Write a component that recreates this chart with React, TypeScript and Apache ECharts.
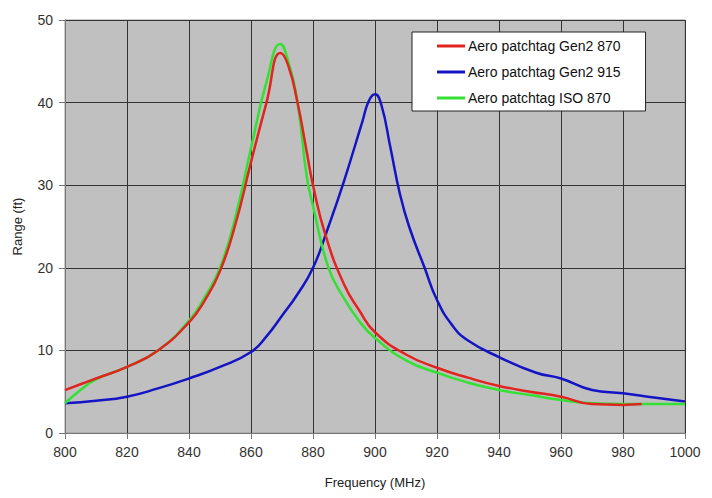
import React, { useEffect, useRef } from "react";
import * as echarts from "echarts";

const seriesNames = ["Aero patchtag Gen2 870", "Aero patchtag Gen2 915", "Aero patchtag ISO 870"];

const redFreq = [800, 805, 810, 820, 830, 840, 845, 850, 855, 860, 865, 869.5, 872, 875, 878, 880, 884, 890, 895, 900, 910, 920, 930, 940, 950, 960, 970, 980, 986];
const redVals = [5.2, 5.9, 6.6, 8.0, 10.0, 13.4, 16.0, 19.6, 25.3, 32.8, 40, 46, 44.5, 40, 34, 30, 24, 18, 14.8, 12.2, 9.5, 7.9, 6.7, 5.7, 5.0, 4.4, 3.5, 3.4, 3.5];

const blueFreq = [800, 810, 820, 830, 840, 850, 860, 865, 870, 875, 880, 885, 890, 896, 898, 900, 902, 905, 908, 911, 916, 920, 925, 930, 940, 952, 960, 970, 980, 990, 1000];
const blueVals = [3.6, 3.9, 4.4, 5.4, 6.6, 8.0, 9.8, 11.7, 14.2, 16.8, 20, 25, 30.5, 37.8, 40.2, 41, 39.8, 34.5, 29, 25, 20, 16.1, 13, 11.2, 9.2, 7.3, 6.6, 5.2, 4.8, 4.3, 3.8];

const greenFreq = [800, 805, 810, 820, 830, 840, 845, 850, 855, 860, 865, 869.5, 872, 875, 878, 880, 885, 890, 895, 900, 910, 920, 930, 940, 950, 960, 970, 980, 1000];
const greenVals = [3.6, 5.2, 6.5, 8.0, 10.0, 13.6, 16.4, 20, 26.2, 34.5, 42.5, 47.1, 45, 40, 31, 27.5, 20, 16.3, 13.5, 11.5, 8.8, 7.3, 6.1, 5.2, 4.6, 4.0, 3.6, 3.5, 3.5];

const colors = ["#e02420", "#1414c4", "#33e033"];

const zip = (xs: number[], ys: number[]) => xs.map((x, i) => [x, ys[i]]);

export default function App() {
  const ref = useRef<HTMLDivElement>(null);
  useEffect(() => {
    if (!ref.current) return;
    const chart = echarts.init(ref.current, undefined, { renderer: "svg" });
    const font = "'Liberation Sans', Arial, sans-serif";
    const data = [zip(redFreq, redVals), zip(blueFreq, blueVals), zip(greenFreq, greenVals)];
    chart.setOption({
      animation: false,
      backgroundColor: "#ffffff",
      textStyle: { fontFamily: font },
      grid: {
        left: 65,
        right: 27,
        top: 20,
        bottom: 65,
        show: true,
        backgroundColor: "#c0c0c0",
        borderColor: "#9a9a9a",
        borderWidth: 1,
      },
      legend: {
        data: seriesNames,
        orient: "vertical",
        left: 412,
        top: 32,
        padding: [7, 25, 6, 25],
        itemGap: 12,
        itemWidth: 28,
        itemHeight: 3,
        icon: "rect",
        backgroundColor: "#ffffff",
        borderColor: "#222",
        borderWidth: 1,
        borderRadius: 0,
        textStyle: { fontFamily: font, fontSize: 14, color: "#111", lineHeight: 14, padding: [0, 0, 0, -2] },
      },
      xAxis: {
        type: "value",
        min: 800,
        max: 1000,
        interval: 20,
        name: "Frequency (MHz)",
        nameLocation: "middle",
        nameGap: 43,
        nameTextStyle: { fontFamily: font, fontSize: 13, color: "#222" },
        axisLine: { show: true, lineStyle: { color: "#777", width: 1 } },
        axisTick: { show: true, length: 6, lineStyle: { color: "#777" } },
        axisLabel: { fontFamily: font, fontSize: 14, color: "#333", margin: 12, formatter: (v: number) => String(v) },
        splitLine: { show: true, lineStyle: { color: "#333", width: 1 } },
      },
      yAxis: {
        type: "value",
        min: 0,
        max: 50,
        interval: 10,
        name: "Range (ft)",
        nameLocation: "middle",
        nameGap: 41,
        nameTextStyle: { fontFamily: font, fontSize: 13, color: "#222" },
        axisLine: { show: true, lineStyle: { color: "#777", width: 1 } },
        axisTick: { show: true, length: 6, lineStyle: { color: "#777" } },
        axisLabel: { fontFamily: font, fontSize: 14, color: "#333", margin: 12 },
        splitLine: { show: true, lineStyle: { color: "#333", width: 1 } },
      },
      series: seriesNames.map((name, i) => ({
        name,
        type: "line",
        data: data[i],
        smooth: 0.5,
        showSymbol: false,
        symbol: "none",
        color: colors[i],
        lineStyle: { color: colors[i], width: 2.5 },
        z: i === 2 ? 3 : i === 0 ? 4 : 2,
      })),
    });
    return () => chart.dispose();
  }, []);
  return <div ref={ref} style={{ position: "fixed", left: 0, top: 0, width: 712, height: 498 }} />;
}
